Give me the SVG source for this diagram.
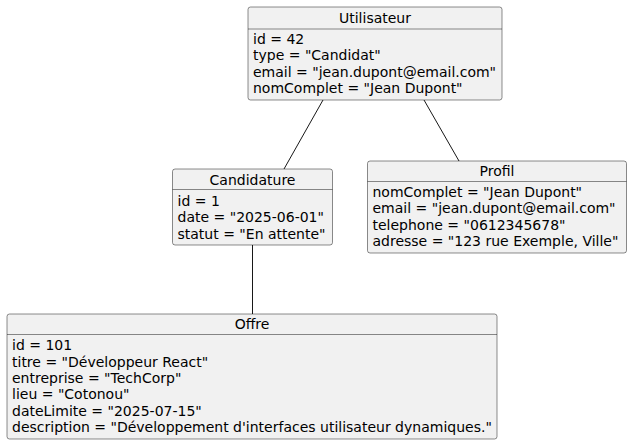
<svg xmlns="http://www.w3.org/2000/svg" width="632" height="446" viewBox="0 0 632 446">
<style>
.box{fill:#F1F1F1;stroke:#181818;stroke-width:0.5}
.sep{stroke:#181818;stroke-width:0.5}
.t{font-family:"DejaVu Sans",sans-serif;font-size:14px;fill:#000}
.c{text-anchor:middle}
.edge{stroke:#181818;stroke-width:1;fill:none}
</style>
<rect width="632" height="446" fill="#FFFFFF"/>
<g id="connectors">
<path class="edge" d="M323,100 L284,169"/>
<path class="edge" d="M424,100 L459,161"/>
<path class="edge" d="M252.5,245 L252.5,314"/>
</g>
<g id="Utilisateur">
<rect class="box" x="248" y="7" width="254" height="93" rx="2.5"/>
<line class="sep" x1="248" y1="29" x2="502" y2="29"/>
<text class="t c" x="375" y="22.5">Utilisateur</text>
<text class="t" x="253" y="44">id = 42</text>
<text class="t" x="253" y="60.3">type = "Candidat"</text>
<text class="t" x="253" y="76.6">email = "jean.dupont@email.com"</text>
<text class="t" x="253" y="92.9">nomComplet = "Jean Dupont"</text>
</g>
<g id="Candidature">
<rect class="box" x="172.5" y="169" width="160" height="76" rx="2.5"/>
<line class="sep" x1="172.5" y1="189.5" x2="332.5" y2="189.5"/>
<text class="t c" x="252.5" y="184.7">Candidature</text>
<text class="t" x="177.5" y="206">id = 1</text>
<text class="t" x="177.5" y="222.3">date = "2025-06-01"</text>
<text class="t" x="177.5" y="238.6">statut = "En attente"</text>
</g>
<g id="Profil">
<rect class="box" x="367.5" y="161" width="259" height="92" rx="2.5"/>
<line class="sep" x1="367.5" y1="181.5" x2="626.5" y2="181.5"/>
<text class="t c" x="497" y="176">Profil</text>
<text class="t" x="372.5" y="197">nomComplet = "Jean Dupont"</text>
<text class="t" x="372.5" y="213.3">email = "jean.dupont@email.com"</text>
<text class="t" x="372.5" y="229.6">telephone = "0612345678"</text>
<text class="t" x="372.5" y="245.9">adresse = "123 rue Exemple, Ville"</text>
</g>
<g id="Offre">
<rect class="box" x="7" y="314" width="490" height="125" rx="2.5"/>
<line class="sep" x1="7" y1="334.5" x2="497" y2="334.5"/>
<text class="t c" x="252" y="329">Offre</text>
<text class="t" x="12" y="350.3">id = 101</text>
<text class="t" x="12" y="366.6">titre = "Développeur React"</text>
<text class="t" x="12" y="382.9">entreprise = "TechCorp"</text>
<text class="t" x="12" y="399.2">lieu = "Cotonou"</text>
<text class="t" x="12" y="415.5">dateLimite = "2025-07-15"</text>
<text class="t" x="12" y="431.8">description = "Développement d'interfaces utilisateur dynamiques."</text>
</g>
</svg>
